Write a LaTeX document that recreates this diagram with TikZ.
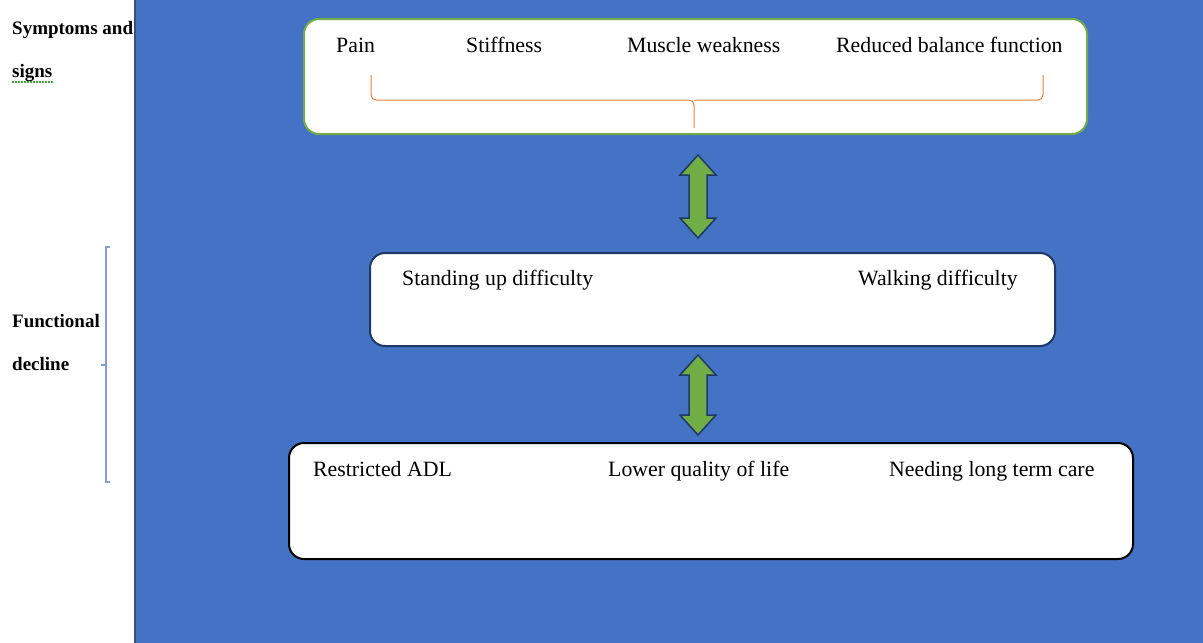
\documentclass[tikz,border=0pt]{standalone}
\usepackage{fontspec}
\setmainfont{Liberation Serif}
\usetikzlibrary{calc}
\definecolor{panelblue}{HTML}{4472C4}
\definecolor{paneledge}{HTML}{3A4F78}
\definecolor{boxgreen}{HTML}{70AD47}
\definecolor{squiggle}{HTML}{3FA53F}
\definecolor{navy}{HTML}{1F3864}
\definecolor{braceorange}{HTML}{ED7D31}
\definecolor{bracketblue}{HTML}{7F9FD6}
\tikzset{
  box/.style={draw, line width=2pt, fill=white, rounded corners=15pt, inner sep=0pt},
  item/.style={anchor=base west, inner sep=0pt, font=\fontsize{21.8}{26}\selectfont},
  side/.style={anchor=base west, inner sep=0pt, font=\fontsize{19}{23}\selectfont\bfseries},
  dblarrow/.style={fill=boxgreen, draw=navy, line width=1.5pt, line join=miter},
}
\begin{document}
\begin{tikzpicture}[x=1pt,y=-1pt]
\useasboundingbox (0,0) rectangle (1203,643);
\fill[white] (0,0) rectangle (1203,643);
\fill[panelblue] (135,0) rectangle (1203,643);
\draw[paneledge, line width=2.5pt] (135,0) -- (135,643);

% boxes
\node[box, draw=boxgreen, minimum width=783pt, minimum height=115pt] (b1) at (695.5,76.5) {};
\node[box, draw=navy, minimum width=685pt, minimum height=93pt] (b2) at (712.5,299.5) {};
\node[box, draw=black, minimum width=844pt, minimum height=116pt] (b3) at (711,501) {};

% row 1 texts
\node[item] (pain) at (336,52) {Pain};
\node[item] (stiff) at (466,52) {Stiffness};
\node[item] (muscle) at (627,52) {Muscle weakness};
\node[item] (balance) at (836,52) {Reduced balance function};
% brace
\draw[braceorange, line width=1pt, rounded corners=5pt]
  (371,75) -- (371,100) -- (694,100) -- (694,128);
\draw[braceorange, line width=1pt, rounded corners=5pt]
  (1043,75) -- (1043,100) -- (694,100);

% row 2 texts
\node[item] (stand) at (402,285) {Standing up difficulty};
\node[item] (walk) at (858,285) {Walking difficulty};

% row 3 texts
\node[item] (adl) at (313,476) {Restricted ADL};
\node[item] (qol) at (608,476) {Lower quality of life};
\node[item] (care) at (889,476) {Needing long term care};

% double arrows
\coordinate (a1t) at (698,155);
\coordinate (a1b) at (698,238);
\coordinate (a2t) at (698,355);
\coordinate (a2b) at (698,435);
\draw[dblarrow] (a1t) -- ++(18,20) -- ++(-9,0) -- ($(a1b)+(9,-20)$) -- ++(9,0) -- (a1b)
  -- ++(-18,-20) -- ++(9,0) -- ($(a1t)+(-9,20)$) -- ++(-9,0) -- cycle;
\draw[dblarrow] (a2t) -- ++(18,20) -- ++(-9,0) -- ($(a2b)+(9,-20)$) -- ++(9,0) -- (a2b)
  -- ++(-18,-20) -- ++(9,0) -- ($(a2t)+(-9,20)$) -- ++(-9,0) -- cycle;

% side labels
\node[side] (sym1) at (12,34) {Symptoms and};
\node[side] (sym2) at (12,77) {signs};
\draw[squiggle, line width=1.2pt, dash pattern=on 1.5pt off 1.5pt] (12,82) -- (53,82);
\node[side] (fun1) at (12,327) {Functional};
\node[side] (fun2) at (12,370) {decline};
\draw[bracketblue, line width=1.2pt] (110,247) -- (106,247) -- (106,482) -- (110,482);
\draw[bracketblue, line width=1.2pt] (106,365) -- (101,365);
\end{tikzpicture}
\end{document}
